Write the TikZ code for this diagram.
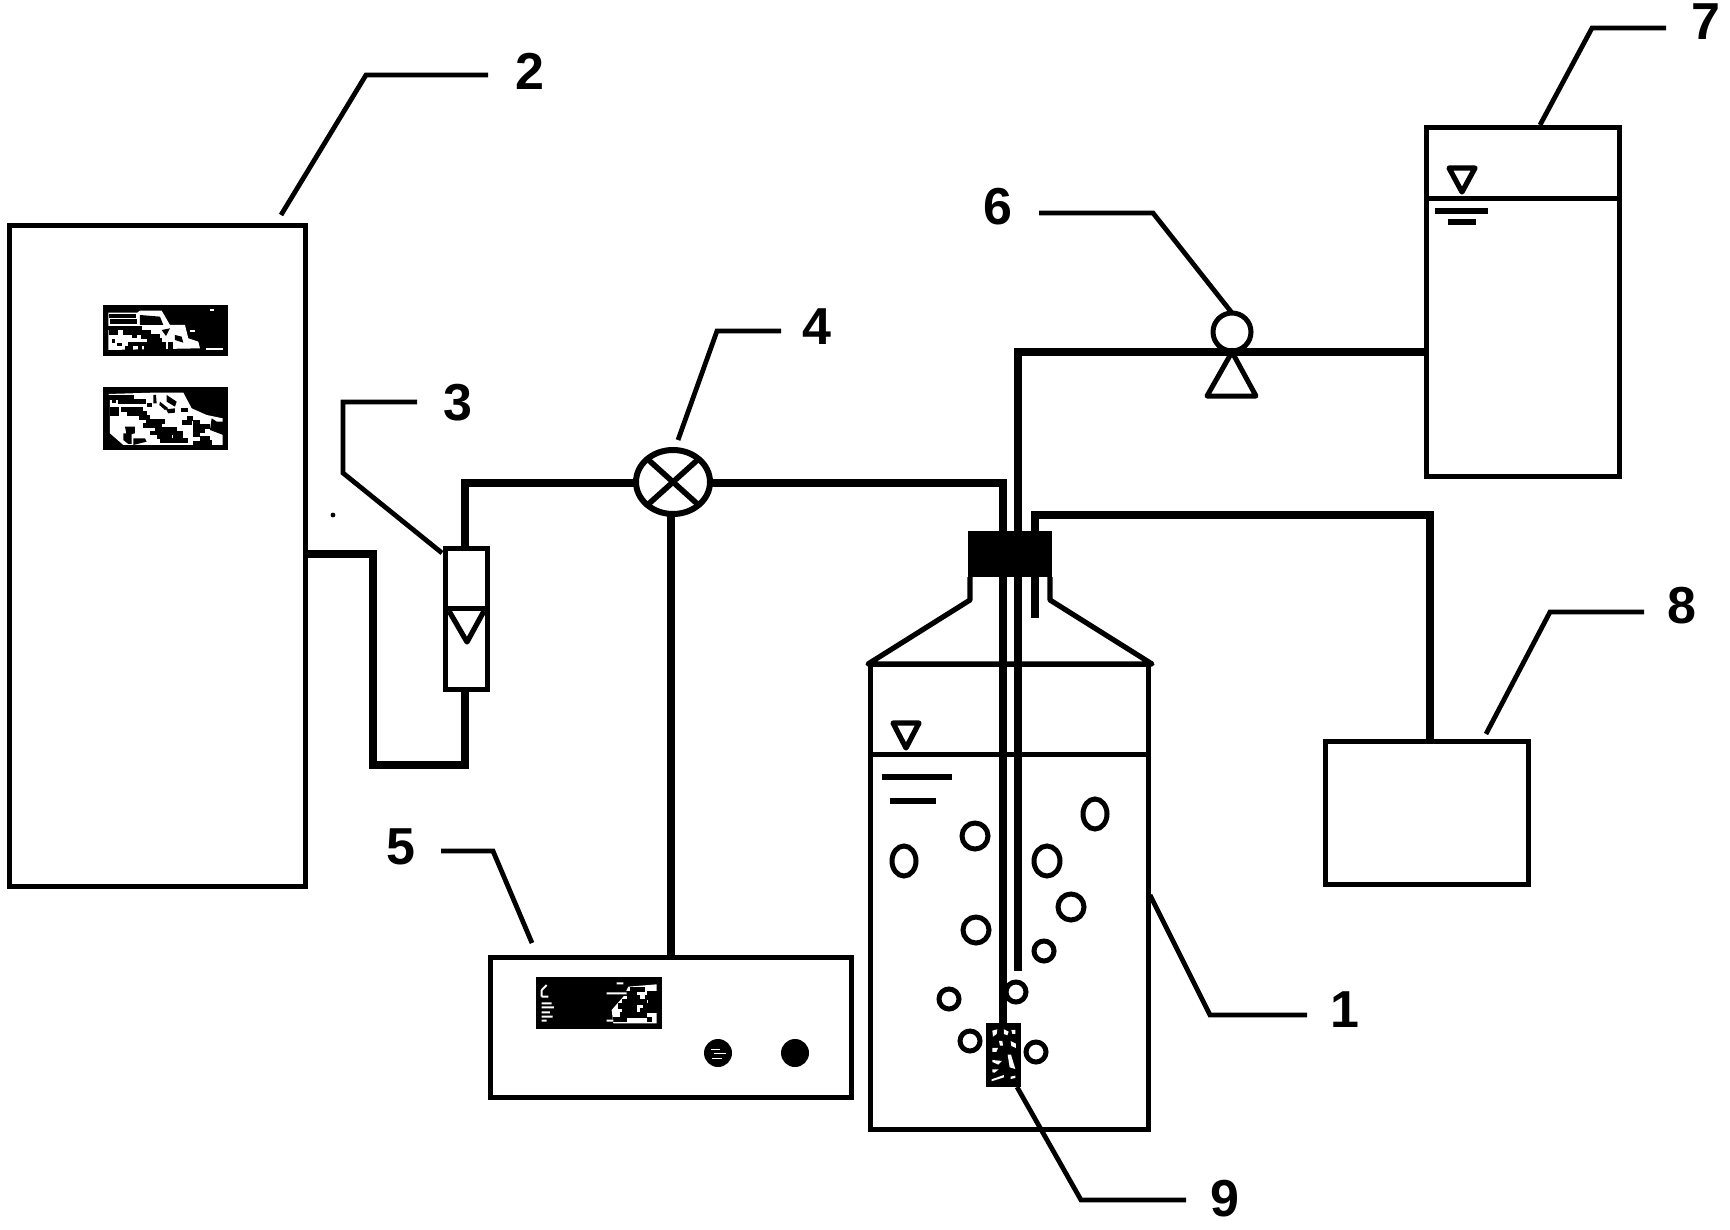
\documentclass[tikz,border=0pt]{standalone}
\usepackage{fontspec}
\setmainfont{Liberation Sans}
\usetikzlibrary{shapes.geometric}
\newcommand{\pxbox}[6]{\node[#6,minimum width={(#4-#2)*0.5pt},minimum height={(#5-#3)*0.5pt}] (#1) at ({(#2+#4)/2},{(#3+#5)/2}) {};}
\tikzset{
  frame/.style={draw=black,line width=2.5pt,inner sep=0pt,outer sep=0pt,rectangle},
  solidblock/.style={fill=black,draw=none,inner sep=0pt,outer sep=0pt,rectangle},
  pipe/.style={line width=3.9pt,line join=miter,draw=black},
  tube/.style={line width=4.4pt,draw=black},
  leader/.style={line width=2.4pt,draw=black,line join=miter},
  thick level/.style={line width=2.6pt,draw=black},
  num/.style={font=\fontsize{26}{26}\selectfont\bfseries,inner sep=0pt,text=black},
  bubble/.style={draw=black,line width=2.5pt,ellipse,inner sep=0pt,outer sep=0pt,fill=white},
  wb/.style={draw=white,line width=1pt},
  kb/.style={draw=black,line width=2pt},
  wf/.style={fill=white,draw=none},
  kf/.style={fill=black,draw=none},
}
\begin{document}
\begin{tikzpicture}[x=0.5pt,y=-0.5pt]
\useasboundingbox (0,0) rectangle (1730,1230);
% boxes
\pxbox{two}{9}{226}{305}{886}{frame}
\pxbox{disptopa}{103}{305}{228}{356}{solidblock}
\pxbox{disptopb}{103}{387}{228}{450}{solidblock}
\pxbox{five}{490}{957}{851}{1097}{frame}
\pxbox{dispfive}{536}{977}{662}{1029}{solidblock}
\pxbox{meter}{445}{548}{487}{689}{frame}
\pxbox{seven}{1426}{128}{1619}{476}{frame}
\pxbox{eight}{1325}{741}{1528}{884}{frame}
\pxbox{tank}{870}{664}{1148}{1129}{frame}
\pxbox{plug}{968}{531}{1052}{577}{solidblock}
\pxbox{sparger}{986}{1023}{1021}{1087}{solidblock}
% dot
\fill (333,515) circle (1.2pt);
% valve and pump
\node[draw=black,line width=3pt,ellipse,minimum width=37pt,minimum height=32pt,inner sep=0pt,outer sep=0pt] (valve) at (673,482) {};
\draw[line width=2.8pt] (valve.42) -- (valve.222) (valve.138) -- (valve.318);
\node[draw=black,line width=2.5pt,circle,minimum width=19pt,inner sep=0pt,outer sep=0pt] (pumpc) at (1232,332) {};
\coordinate (pa) at (1232,352);
\coordinate (pb) at (1207,396);
\coordinate (pc) at (1256,396);
\draw[line width=2.5pt,line join=round] (pa) -- (pb) -- (pc) -- cycle;
% knobs
\node[fill=black,circle,minimum width=14pt,inner sep=0pt] (knoba) at (718,1053) {};
\node[fill=black,circle,minimum width=14pt,inner sep=0pt] (knobb) at (795,1053) {};
\draw[wb,line width=.5pt] (711,1049)--(720,1049) (714,1053)--(726,1053) (712,1058)--(722,1058);
% pipes
\coordinate (a1) at (373,554);
\coordinate (a2) at (373,765);
\coordinate (a3) at (465,765);
\draw[pipe] (two.east |- a1) -- (a1) -- (a2) -- (a3) -- (a3 |- meter.south);
\coordinate (b1) at (465,483);
\draw[pipe] (b1 |- meter.north) -- (b1) -- (valve.west |- b1);
\coordinate (c1) at (1003,483);
\draw[pipe] (valve.east |- c1) -- (c1) -- (c1 |- plug.north);
\draw[tube] (c1 |- plug.south) -- (c1 |- sparger.north);
\coordinate (d1) at (1018,352);
\draw[pipe] (seven.west |- d1) -- (d1) -- (d1 |- plug.north);
\coordinate (d2) at (1018,971);
\draw[tube] (d1 |- plug.south) -- (d2);
\coordinate (e1) at (1035,515);
\coordinate (e2) at (1430,515);
\coordinate (e3) at (1035,618);
\draw[pipe] (e1 |- plug.north) -- (e1) -- (e2) -- (e2 |- eight.north);
\draw[tube] (e1 |- plug.south) -- (e3);
\coordinate (g1) at (671,500);
\draw[pipe] (g1 |- valve.south) -- (g1 |- five.north);
% bottle neck
\coordinate (n1) at (970,600);
\coordinate (n2) at (868,664);
\coordinate (n3) at (1050,600);
\coordinate (n4) at (1152,664);
\draw[line width=2.6pt,line join=round] (n1 |- plug.south) -- (n1) -- (n2) -- (n4) -- (n3) -- (n3 |- plug.south);
% tank level
\draw[frame] (tank.west |- 0,754) -- (tank.east |- 0,754);
\coordinate (t1) at (893,723);
\coordinate (t2) at (919,723);
\coordinate (t3) at (906,748);
\draw[line width=2.6pt,line join=round] (t1) -- (t2) -- (t3) -- cycle;
\coordinate (l1) at (882,777); \coordinate (l2) at (952,777);
\coordinate (l3) at (890,801); \coordinate (l4) at (936,801);
\draw[thick level] (l1) -- (l2);
\draw[thick level] (l3) -- (l4);
% bubbles
\foreach \i/\bx/\by/\rw/\rh in {1/1095/814/12/15,2/975/836/13/13,3/904/861/12/15,4/1047/861/13/15,5/1071/907/13/13,6/976/930/13/13,7/1044/951/10/10,8/1016/992/10/10,9/949/999/10/10,10/970/1041/10/10,11/1036/1052/10/10}{
  \node[bubble,minimum width=\rw pt,minimum height=\rh pt] (bub\i) at (\bx,\by) {};
}
% sparger speckle
\begin{scope}[shift={(860,760)},scale=0.3333]
\fill[white] (397,812)--(412,808)--(410,822)--(399,830)--cycle;
\fill[white] (432,808)--(446,815)--(442,826)--(432,822)--cycle;
\fill[white] (454,810)--(466,810)--(466,822)--(457,822)--cycle;
\fill[white] (397,864)--(414,864)--(409,876)--(397,876)--cycle;
\fill[white] (452,843)--(468,851)--(468,864)--(454,858)--cycle;
\fill[white] (397,900)--(426,903)--(415,914)--(397,906)--cycle;
\fill[white] (443,884)--(453,884)--(466,927)--(449,922)--cycle;
\fill[white] (397,928)--(416,928)--(404,938)--(397,937)--cycle;
\fill[white] (395,958)--(432,945)--(432,952)--(395,964)--cycle;
\fill[white] (417,843)--(427,843)--(429,857)--(420,857)--cycle;
\fill[white] (452,950)--(466,947)--(466,954)--(452,957)--cycle;
\end{scope}
% display 1
\begin{scope}[shift={(60,270)},scale=0.3333]
\fill[wf] (145,128)--(232,128)--(240,122)--(305,122)--(330,165)--(375,165)--(385,205)--(415,215)--(420,235)--(145,240)--cycle;
\foreach \ya/\xa/\xb in {138/148/228,155/150/230,174/145/245,187/190/272,199/243/300,211/262/305,222/205/318,235/195/220,235/235/247,235/252/318,187/148/175}{\draw[kb,line width=2.4pt] (\xa,\ya)--(\xb,\ya);}
\fill[kf] (240,135)--(300,140)--(310,165)--(240,165)--cycle;
\fill[kf] (305,180)--(330,175)--(318,198)--cycle;
\fill[kf] (345,195)--(365,200)--(370,218)--(345,210)--cycle;
\fill[kf] (155,208)--(165,208)--(165,218)--(155,218)--cycle;
\fill[kf] (172,218)--(185,218)--(185,228)--(172,228)--cycle;
\fill[kf] (215,195)--(230,195)--(230,205)--(215,205)--cycle;
\fill[kf] (325,215)--(340,215)--(340,240)--(325,240)--cycle;
\draw[wb] (438,238)--(490,238) (450,121)--(462,121) (390,182)--(405,182) (375,232)--(415,232);
\end{scope}
% display 2
\begin{scope}[shift={(60,270)},scale=0.3333]
\fill[wf] (145,372)--(280,368)--(370,368)--(395,415)--(440,435)--(488,445)--(488,525)--(300,525)--(190,525)--(150,490)--(150,378)--cycle;
\foreach \ya/\xa/\xb in {382/147/222,395/175/258,405/260/275,418/150/178,418/183/250,431/150/178,431/200/260,442/238/270,455/258/315,466/248/305,478/285/352,489/270/368,500/290/335,500/340/370,512/300/385,520/400/455,420/362/385,445/380/400,458/365/395,458/400/420,470/400/450,482/400/435,495/400/420,505/420/450,516/420/455}{\draw[kb,line width=2.4pt] (\xa,\ya)--(\xb,\ya);}
\fill[kf] (280,375)--(288,375)--(290,400)--(280,400)--cycle;
\fill[kf] (320,375)--(350,395)--(345,410)--(320,395)--cycle;
\fill[kf] (300,395)--(325,415)--(315,420)--(298,405)--cycle;
\fill[kf] (318,418)--(345,415)--(345,428)--(325,430)--cycle;
\fill[kf] (195,470)--(225,470)--(225,490)--(200,495)--cycle;
\fill[kf] (190,490)--(215,490)--(215,522)--(205,522)--(190,510)--cycle;
\fill[kf] (220,505)--(255,505)--(260,515)--(220,525)--cycle;
\fill[kf] (455,445)--(470,455)--(490,455)--(490,495)--(450,480)--cycle;
\fill[kf] (155,390)--(168,390)--(168,400)--(155,400)--cycle;
\end{scope}
% display 5
\begin{scope}[shift={(480,950)},scale=0.3333]
\fill[wf] (445,110)--(530,103)--(530,220)--(400,220)--(395,180)--(430,140)--cycle;
\foreach \ya/\xa/\xb in {118/450/495,130/430/470,130/500/530,143/440/480,143/495/530,156/425/500,156/505/530,168/415/470,168/490/530,182/425/470,182/480/530,195/420/500,208/400/440,208/500/515}{\draw[kb,line width=2.6pt] (\xa,\ya)--(\xb,\ya);}
\draw[wb] (185,120)--(200,105) (185,120)--(185,140) (185,140)--(205,140) (185,160)--(215,160) (185,172)--(222,172) (185,187)--(210,187) (185,200)--(218,200) (185,212)--(200,212) (380,130)--(440,130) (410,100)--(430,100) (380,212)--(400,212);
\end{scope}
% level of tank 7
\draw[frame] (seven.west |- 0,199) -- (seven.east |- 0,199);
\coordinate (u1) at (1449,168);
\coordinate (u2) at (1475,168);
\coordinate (u3) at (1462,192);
\draw[line width=2.6pt,line join=round] (u1) -- (u2) -- (u3) -- cycle;
\coordinate (m1) at (1435,211); \coordinate (m2) at (1488,211);
\coordinate (m3) at (1448,222); \coordinate (m4) at (1476,222);
\draw[thick level] (m1) -- (m2);
\draw[thick level] (m3) -- (m4);
% meter float
\coordinate (f0) at (445,608);
\draw[frame] (meter.west |- f0) -- (meter.east |- f0);
\coordinate (f1) at (449,611);
\coordinate (f2) at (484,611);
\coordinate (f3) at (467,642);
\draw[line width=2.6pt,line join=round] (f1) -- (f3) -- (f2);
% labels
\node[num] (lab1) at (1345,1010) {1};
\node[num] (lab2) at (530,71) {2};
\node[num] (lab3) at (458,403) {3};
\node[num] (lab4) at (817,327) {4};
\node[num] (lab5) at (401,847) {5};
\node[num] (lab6) at (998,207) {6};
\node[num] (lab7) at (1706,22) {7};
\node[num] (lab8) at (1682,606) {8};
\node[num] (lab9) at (1225,1199) {9};
% leaders
\coordinate (q2a) at (281,215); \coordinate (q2b) at (366,75); \coordinate (q2c) at (488,75);
\draw[leader] (q2a) -- (q2b) -- (q2c);
\coordinate (q3a) at (442,553); \coordinate (q3b) at (343,473); \coordinate (q3c) at (343,402); \coordinate (q3d) at (417,402);
\draw[leader] (q3a) -- (q3b) -- (q3c) -- (q3d);
\coordinate (q4a) at (678,440); \coordinate (q4b) at (717,331); \coordinate (q4c) at (781,331);
\draw[leader] (q4a) -- (q4b) -- (q4c);
\coordinate (q5a) at (532,943); \coordinate (q5b) at (493,851); \coordinate (q5c) at (441,851);
\draw[leader] (q5a) -- (q5b) -- (q5c);
\coordinate (q6b) at (1153,213); \coordinate (q6c) at (1039,213);
\draw[leader] (pumpc.north) -- (q6b) -- (q6c);
\coordinate (q7a) at (1540,125); \coordinate (q7b) at (1592,28); \coordinate (q7c) at (1666,28);
\draw[leader] (q7a) -- (q7b) -- (q7c);
\coordinate (q8a) at (1486,734); \coordinate (q8b) at (1550,612); \coordinate (q8c) at (1644,612);
\draw[leader] (q8a) -- (q8b) -- (q8c);
\coordinate (q1a) at (1150,895); \coordinate (q1b) at (1210,1015); \coordinate (q1c) at (1307,1015);
\draw[leader] (q1a) -- (q1b) -- (q1c);
\coordinate (q9a) at (1017,1087); \coordinate (q9b) at (1081,1200); \coordinate (q9c) at (1186,1200);
\draw[leader] (q9a) -- (q9b) -- (q9c);
\end{tikzpicture}
\end{document}
